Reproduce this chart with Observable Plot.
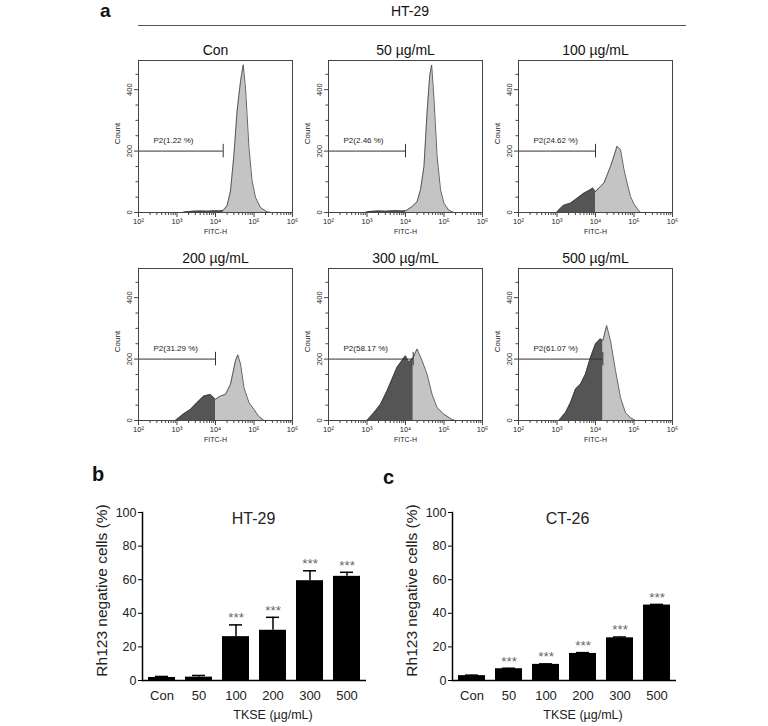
<!DOCTYPE html>
<html><head><meta charset="utf-8">
<script src="https://cdn.jsdelivr.net/npm/d3@7"></script>
<script src="https://cdn.jsdelivr.net/npm/@observablehq/plot@0.6"></script>
<style>
body{margin:0;background:#fff;}
#root{position:relative;width:768px;height:726px;overflow:hidden;font-family:"Liberation Sans",Arial,sans-serif;color:#111;}
.abs{position:absolute;}
.abs svg{overflow:visible;}
</style></head><body><div id="root"></div>
<script>
// ---------- data: flow cytometry histograms (log10 FITC-H, counts) ----------
const panelTitles = ["Con", "50 µg/mL", "100 µg/mL", "200 µg/mL", "300 µg/mL", "500 µg/mL"];
const gateLabels = ["P2(1.22 %)", "P2(2.46 %)", "P2(24.62 %)", "P2(31.29 %)", "P2(58.17 %)", "P2(61.07 %)"];
const gateEnds = [4.2, 4.0, 4.0, 4.0, 4.2, 4.19];

const logCon  = [3.15, 3.2, 3.4, 3.6, 3.8, 4.0, 4.1, 4.2, 4.3, 4.39, 4.48, 4.56, 4.65, 4.72, 4.78, 4.87, 4.95, 5.04, 5.17, 5.34, 5.45];
const cntCon  = [0, 2, 4, 5, 4, 6, 5, 7, 22, 70, 189, 330, 427, 481, 405, 211, 103, 49, 16, 2, 0];
const log50   = [2.95, 3.05, 3.3, 3.5, 3.7, 3.9, 4.0, 4.04, 4.17, 4.3, 4.39, 4.48, 4.56, 4.63, 4.68, 4.74, 4.82, 4.91, 5.0, 5.12, 5.25];
const cnt50   = [0, 3, 5, 4, 6, 5, 6, 8, 19, 35, 74, 150, 326, 447, 480, 370, 184, 74, 30, 8, 0];
const log100  = [2.99, 3.1, 3.18, 3.35, 3.52, 3.7, 3.87, 3.93, 4.0, 4.13, 4.22, 4.39, 4.48, 4.56, 4.6, 4.65, 4.74, 4.82, 4.91, 4.99, 5.08, 5.17];
const cnt100  = [0, 15, 24, 30, 46, 63, 74, 80, 68, 85, 96, 150, 184, 216, 210, 205, 140, 96, 52, 30, 13, 0];
const log200  = [2.96, 3.18, 3.35, 3.52, 3.7, 3.87, 4.0, 4.13, 4.26, 4.39, 4.52, 4.58, 4.65, 4.74, 4.87, 5.0, 5.12, 5.26];
const cnt200  = [0, 22, 36, 58, 80, 85, 69, 80, 85, 118, 195, 214, 184, 107, 58, 36, 14, 0];
const log300  = [3.0, 3.18, 3.35, 3.52, 3.65, 3.78, 3.91, 4.0, 4.09, 4.2, 4.3, 4.43, 4.56, 4.69, 4.82, 5.0, 5.21, 5.3];
const cnt300  = [0, 25, 52, 96, 134, 173, 195, 211, 190, 205, 233, 195, 151, 85, 42, 20, 3, 0];
const log500  = [3.05, 3.22, 3.35, 3.48, 3.61, 3.74, 3.87, 4.0, 4.13, 4.19, 4.29, 4.39, 4.52, 4.65, 4.78, 4.91, 5.04];
const cnt500  = [0, 25, 58, 102, 118, 151, 205, 249, 266, 260, 309, 260, 162, 74, 25, 9, 0];

const histLogs = [logCon, log50, log100, log200, log300, log500];
const histCounts = [cntCon, cnt50, cnt100, cnt200, cnt300, cnt500];

const xMajorTicks = [1e2, 1e3, 1e4, 1e5, 1e6];
const xMajorLabels = ["10²", "10³", "10⁴", "10⁵", "10⁶"];
const yMajorTicks = [0, 200, 400];
const yMinorTicks = [50, 100, 150, 250, 300, 350, 450];

// ---------- data: bar charts ----------
const cats = ["Con", "50", "100", "200", "300", "500"];
const ht29Mean = [1.8, 2.0, 26.1, 29.9, 59.4, 62.0];
const ht29Err  = [0.6, 1.0, 7.0, 7.7, 5.9, 2.4];
const ht29Sig  = ["", "", "***", "***", "***", "***"];
const ct26Mean = [2.9, 7.0, 9.6, 16.1, 25.4, 44.9];
const ct26Err  = [0.3, 0.3, 0.3, 0.5, 0.5, 0.4];
const ct26Sig  = ["", "***", "***", "***", "***", "***"];
const barYTicks = [0, 20, 40, 60, 80, 100];

// ---------- helpers ----------
const root = document.getElementById("root");
const FONT = '"Liberation Sans", Arial, sans-serif';
function place(node, left, top) {
  const d = document.createElement("div");
  d.className = "abs";
  d.style.left = left + "px";
  d.style.top = top + "px";
  d.appendChild(node);
  root.appendChild(d);
  return d;
}
function label(text, left, top, css) {
  const d = document.createElement("div");
  d.className = "abs";
  d.style.left = left + "px";
  d.style.top = top + "px";
  d.style.whiteSpace = "nowrap";
  Object.assign(d.style, css || {});
  d.textContent = text;
  root.appendChild(d);
  return d;
}

const xMinorTicks = [];
for (let dec = 2; dec < 6; dec++) for (let m = 2; m <= 9; m++) xMinorTicks.push(m * 10 ** dec);
const xLabelMap = new Map(xMajorTicks.map((t, i) => [t, xMajorLabels[i]]));

function histogram(i) {
  const rows = histLogs[i].map((l, j) => ({l, x: 10 ** l, c: histCounts[i][j]}));
  const g = gateEnds[i];
  const dark = rows.filter(d => d.l <= g + 1e-9);
  const light = rows.filter(d => d.l >= g - 1e-9);
  return Plot.plot({
    width: 190, height: 203,
    marginLeft: 30, marginRight: 6, marginTop: 25, marginBottom: 26,
    style: {background: "transparent", fontFamily: FONT, overflow: "visible", color: "#222"},
    x: {type: "log", domain: [1e2, 1e6]},
    y: {domain: [0, 495]},
    marks: [
      Plot.areaY(light, {x: "x", y: "c", fill: "#c4c4c4"}),
      Plot.areaY(dark, {x: "x", y: "c", fill: "#555555"}),
      Plot.lineY(rows, {x: "x", y: "c", stroke: "#3c3c3c", strokeWidth: 0.8}),
      Plot.ruleY([200], {x1: 1e2, x2: 10 ** g, stroke: "#333", strokeWidth: 1}),
      Plot.ruleX([10 ** g], {y1: 178, y2: 222, stroke: "#333", strokeWidth: 1}),
      Plot.text([gateLabels[i]], {x: 10 ** 2.39, y: 200, dy: -11, textAnchor: "start", fontSize: 8, fill: "#222"}),
      Plot.frame({stroke: "#444", strokeWidth: 1}),
      Plot.axisX({ticks: xMinorTicks, tickSize: 3, tickFormat: () => "", label: null, stroke: "#444"}),
      Plot.axisX({ticks: xMajorTicks, tickSize: 5, tickPadding: 1, tickFormat: d => xLabelMap.get(d), fontSize: 7.5, label: null, stroke: "#444"}),
      Plot.axisY({ticks: yMinorTicks, tickSize: 2.5, tickFormat: () => "", label: null, stroke: "#444"}),
      Plot.axisY({ticks: yMajorTicks, tickSize: 4, tickFormat: () => "", label: null, stroke: "#444"}),
      Plot.text(yMajorTicks, {x: 1e2, y: d => d, text: d => String(d), rotate: -90, dx: -9, fontSize: 7.5, fill: "#222"}),
      Plot.text(["Count"], {frameAnchor: "left", textAnchor: "middle", rotate: -90, dx: -21, dy: -3, fontSize: 8, fill: "#222"}),
      Plot.text(["FITC-H"], {frameAnchor: "bottom", dy: 21, fontSize: 7, fill: "#222"}),
      Plot.text([panelTitles[i]], {frameAnchor: "top", dy: -15, fontSize: 14, fill: "#111"})
    ]
  });
}

function barChart(title, mean, err, sig, titleDx) {
  const rows = cats.map((c, i) => ({cat: c, v: mean[i], top: mean[i] + err[i], sig: sig[i]}));
  return Plot.plot({
    width: 289, height: 244,
    marginLeft: 60, marginRight: 5, marginTop: 30, marginBottom: 46,
    style: {background: "transparent", fontFamily: FONT, overflow: "visible", color: "#222"},
    x: {domain: cats, paddingInner: 0.28, paddingOuter: 0.14},
    y: {domain: [0, 100]},
    marks: [
      Plot.ruleX(rows, {x: "cat", y1: "v", y2: "top", stroke: "black", strokeWidth: 1.5}),
      Plot.tickY(rows, {x: "cat", y: "top", stroke: "black", strokeWidth: 1.5, insetLeft: 7, insetRight: 7}),
      Plot.barY(rows, {x: "cat", y: "v", fill: "black"}),
      Plot.text(rows, {x: "cat", y: "top", text: "sig", dy: -7, fontSize: 13.5, fill: "#666"}),
      Plot.ruleY([0], {stroke: "black", strokeWidth: 1.5}),
      Plot.frame({anchor: "left", stroke: "black", strokeWidth: 1.5}),
      Plot.axisY({ticks: barYTicks, tickSize: 4, tickPadding: 2, fontSize: 12.5, label: null, stroke: "black"}),
      Plot.axisX({tickSize: 0, tickPadding: 10, fontSize: 13, label: null}),
      Plot.ruleY([0], {x1: "50", x2: "500", dy: 27, stroke: "#333", strokeWidth: 1, insetLeft: -2, insetRight: -2}),
      Plot.text([{cat: "200", t: "TKSE (µg/mL)"}], {x: "cat", text: "t", frameAnchor: "bottom", dy: 38, fontSize: 12.5, fill: "#222"}),
      Plot.text(["Rh123 negative cells (%)"], {frameAnchor: "left", textAnchor: "middle", rotate: -90, dx: -40, dy: -6, fontSize: 15.5, fill: "#222"}),
      Plot.text([title], {frameAnchor: "top", dx: titleDx, fontSize: 16, fill: "#222"})
    ]
  });
}

// ---------- layout ----------
label("a", 100, 0, {fontWeight: "bold", fontSize: "19px"});
label("HT-29", 360, 3, {width: "100px", textAlign: "center", fontSize: "14px"});
const line = document.createElement("div");
line.className = "abs";
Object.assign(line.style, {left: "138px", top: "25px", width: "548px", height: "0", borderTop: "1px solid #555"});
root.appendChild(line);

const frameLefts = [138, 328, 518];
const frameTops = [60, 268];
for (let i = 0; i < 6; i++) {
  const col = i % 3, row = Math.floor(i / 3);
  place(histogram(i), frameLefts[col] - 30, frameTops[row] - 25);
}

label("b", 92, 463, {fontWeight: "bold", fontSize: "20px"});
label("c", 383, 466, {fontWeight: "bold", fontSize: "20px"});
place(barChart("HT-29", ht29Mean, ht29Err, ht29Sig, -1), 82, 482);
place(barChart("CT-26", ct26Mean, ct26Err, ct26Sig, 3), 392, 482);
</script>
</body></html>
